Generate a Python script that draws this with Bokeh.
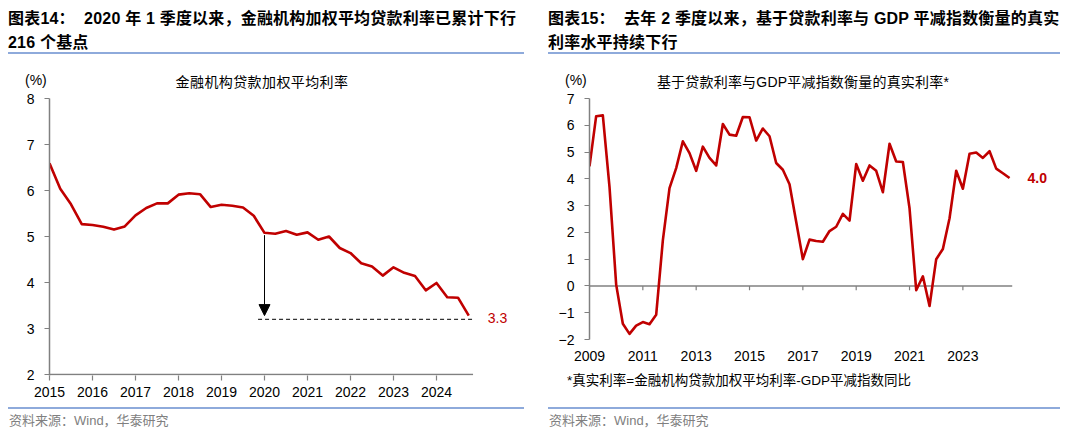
from bokeh.plotting import figure
from bokeh.layouts import row, column
from bokeh.models import Label, Arrow, NormalHead, FixedTicker, Div
from bokeh.embed import file_html
from bokeh.resources import INLINE

# ---------------- data ----------------
# Chart 14: weighted average loan rate of financial institutions (%), 2015Q1-2024Q4
loan_start_year = 2015
loan_rate = [6.59, 6.04, 5.70, 5.27,
             5.25, 5.21, 5.15, 5.22,
             5.46, 5.62, 5.72, 5.72,
             5.91, 5.94, 5.92, 5.64,
             5.69, 5.67, 5.63, 5.45,
             5.08, 5.06, 5.12, 5.04,
             5.09, 4.93, 5.00, 4.75,
             4.64, 4.42, 4.35, 4.15,
             4.33, 4.21, 4.14, 3.83,
             3.99, 3.68, 3.67, 3.28]
loan_xticks = list(range(2015, 2025))
loan_yticks = [2, 3, 4, 5, 6, 7, 8]
loan_axis_end = 2024.85
arrow_year = 2020          # 2020 Q1
dash_level = 3.2
dash_from_year = 2019.85

# Chart 15: real rate = loan rate - GDP deflator yoy (%), 2009Q1-2024Q4
real_start_year = 2009
real_rate = [4.47, 6.34, 6.37, 3.70,
             0.05, -1.41, -1.79, -1.48,
             -1.35, -1.43, -1.08, 1.70,
             3.65, 4.40, 5.40, 4.96,
             4.30, 5.20, 4.78, 4.50,
             6.05, 5.65, 5.61, 6.31,
             6.30, 5.43, 5.88, 5.59,
             4.59, 4.34, 3.80, 2.40,
             1.00, 1.73, 1.68, 1.65,
             2.05, 2.21, 2.69, 2.44,
             4.55, 3.93, 4.50, 4.30,
             3.50, 5.31, 4.65, 4.63,
             2.90, -0.16, 0.36, -0.75,
             1.00, 1.38, 2.53, 4.30,
             3.63, 4.94, 4.98, 4.78,
             5.03, 4.38, 4.21, 4.03]
real_xticks = [2009, 2011, 2013, 2015, 2017, 2019, 2021, 2023]
real_yticks = [-2, -1, 0, 1, 2, 3, 4, 5, 6, 7]
real_axis_end = 2024.85

title14 = ["图表14：&nbsp; 2020 年 1 季度以来，金融机构加权平均贷款利率已累计下行", "216 个基点"]
title15 = ["图表15：&nbsp; 去年 2 季度以来，基于贷款利率与 GDP 平减指数衡量的真实", "利率水平持续下行"]
sub14 = "金融机构贷款加权平均利率"
sub15 = "基于贷款利率与GDP平减指数衡量的真实利率*"
note15 = "*真实利率=金融机构贷款加权平均利率-GDP平减指数同比"
source = "资料来源：Wind，华泰研究"
unit = "(%)"

# ---------------- style ----------------
RED = "#C00000"
AXIS = "#808080"
BLUE = "#8EAADB"
LAT = "Liberation Sans"
FONTS = "'Liberation Sans','Noto Sans CJK SC',sans-serif"
W = 540


def qx(start, n):
    return [start + i / 4 for i in range(n)]


def style_axes(p):
    for ax in (p.xaxis[0], p.yaxis[0]):
        ax.axis_line_color = AXIS
        ax.axis_line_width = 1.5
        ax.major_tick_line_color = AXIS
        ax.major_tick_line_width = 1.2
        ax.major_tick_in = 0
        ax.major_tick_out = 5
        ax.minor_tick_line_color = None
        ax.major_label_text_font = LAT
        ax.major_label_text_font_size = "14px"
        ax.major_label_text_color = "#000000"
    p.yaxis[0].major_label_standoff = 10
    p.xgrid.visible = False
    p.ygrid.visible = False
    p.outline_line_color = None
    p.background_fill_color = "white"
    p.border_fill_color = "white"


def abs_text(left, top, text, size, color="#000", bold=False, width=None,
             center=False, lh=18, spacing=0):
    w = f"width:{width}px;" if width else ""
    al = "text-align:center;" if center else ""
    fw = "bold" if bold else "normal"
    return (f'<div style="position:absolute;left:{left}px;top:{top}px;{w}{al}'
            f'font-family:{FONTS};font-size:{size}px;font-weight:{fw};'
            f'line-height:{lh}px;color:{color};white-space:nowrap;'
            f'letter-spacing:{spacing}px;">{text}</div>')


def abs_line(left, top, width):
    return (f'<div style="position:absolute;left:{left}px;top:{top}px;'
            f'width:{width}px;height:2px;background:{BLUE};"></div>')


def box(html, h):
    return Div(text=f'<div style="position:relative;width:{W}px;height:{h}px;'
                    f'overflow:hidden;">{html}</div>',
               width=W, height=h, margin=0)


# ---------------- left column ----------------
TOP_H = 90
head1 = box(abs_text(8, 7, title14[0] + "<br>" + title14[1], 16, bold=True,
                     lh=24, spacing=0.2)
            + abs_line(8, 52, 516)
            + abs_text(25, 71, unit, 14)
            + abs_text(112, 73, sub14, 14, width=300, center=True, spacing=0.4),
            TOP_H)

PX1 = 43.0      # pixels per year
PY1 = 46.0      # pixels per percentage point
FW1, FH1 = 481, 277
p1 = figure(frame_width=FW1, frame_height=FH1,
            min_border_left=49, min_border_right=W - 49 - FW1,
            min_border_top=8, min_border_bottom=31,
            x_range=(2015, 2015 + FW1 / PX1), y_range=(8 - FH1 / PY1, 8),
            output_backend="svg", toolbar_location=None)
style_axes(p1)
p1.xaxis[0].ticker = FixedTicker(ticks=loan_xticks)
p1.yaxis[0].ticker = FixedTicker(ticks=loan_yticks)
p1.xaxis[0].axis_line_color = None
p1.xaxis[0].major_label_standoff = 6
p1.segment(x0=[loan_xticks[0]], y0=[loan_yticks[0]], x1=[loan_axis_end],
           y1=[loan_yticks[0]], line_color=AXIS, line_width=1.5)

xs1 = qx(loan_start_year, len(loan_rate))
p1.line(xs1, loan_rate, line_color=RED, line_width=2.6, line_join="round")
i20 = xs1.index(arrow_year)
p1.line([dash_from_year, loan_axis_end], [dash_level, dash_level],
        line_color="black", line_width=1, line_dash="4 3")
p1.add_layout(Arrow(end=NormalHead(size=11, fill_color="black", line_color="black"),
                    x_start=arrow_year, y_start=loan_rate[i20] - 0.05,
                    x_end=arrow_year, y_end=loan_rate[-1],
                    line_color="black", line_width=1))
p1.add_layout(Label(x=loan_axis_end + 0.57, y=dash_level + 0.02,
                    text=f"{loan_rate[-1]:.1f}",
                    text_font=LAT, text_font_size="14px", text_color=RED,
                    text_align="center", text_baseline="middle"))

foot1 = box(abs_line(8, 1, 516) + abs_text(9, 6, source, 13, color="#808080"), 27)
col1 = column(head1, p1, foot1, spacing=0)

# ---------------- right column ----------------
head2 = box(abs_text(8, 7, title15[0] + "<br>" + title15[1], 16, bold=True,
                     lh=24, spacing=0.2)
            + abs_line(8, 52, 512)
            + abs_text(25, 71, unit, 14)
            + abs_text(103, 73, sub15, 14, width=320, center=True, spacing=0.2),
            TOP_H)

PX2 = 26.67
FW2, FH2 = 483, 241
p2 = figure(frame_width=FW2, frame_height=FH2,
            min_border_left=49, min_border_right=W - 49 - FW2,
            min_border_top=8, min_border_bottom=31,
            x_range=(2009, 2009 + FW2 / PX2),
            y_range=(real_yticks[0], real_yticks[-1]),
            output_backend="svg", toolbar_location=None)
style_axes(p2)
p2.xaxis[0].ticker = FixedTicker(ticks=real_xticks)
p2.yaxis[0].ticker = FixedTicker(ticks=real_yticks)
p2.xaxis[0].axis_line_color = None
p2.xaxis[0].major_tick_line_color = None
p2.xaxis[0].major_tick_out = 0
p2.xaxis[0].major_label_standoff = 11

p2.segment(x0=[real_start_year], y0=[0], x1=[real_axis_end], y1=[0],
           line_color=AXIS, line_width=1.5)
p2.segment(x0=real_xticks, y0=[0] * len(real_xticks), x1=real_xticks,
           y1=[-0.16] * len(real_xticks), line_color=AXIS, line_width=1.2)
xs2 = qx(real_start_year, len(real_rate))
p2.line(xs2, real_rate, line_color=RED, line_width=2.6, line_join="round")
p2.add_layout(Label(x=real_axis_end + 0.94, y=real_rate[-1],
                    text=f"{real_rate[-1]:.1f}",
                    text_font=LAT, text_font_size="14px", text_color=RED,
                    text_font_style="bold", text_align="center",
                    text_baseline="middle"))

foot2 = box(abs_text(27, 2, note15, 13.5)
            + abs_line(8, 37, 512)
            + abs_text(9, 42, source, 13, color="#808080"), 63)
col2 = column(head2, p2, foot2, spacing=0)

layout = row(col1, col2, spacing=0)
open("out.html", "w").write(file_html(layout, INLINE))
